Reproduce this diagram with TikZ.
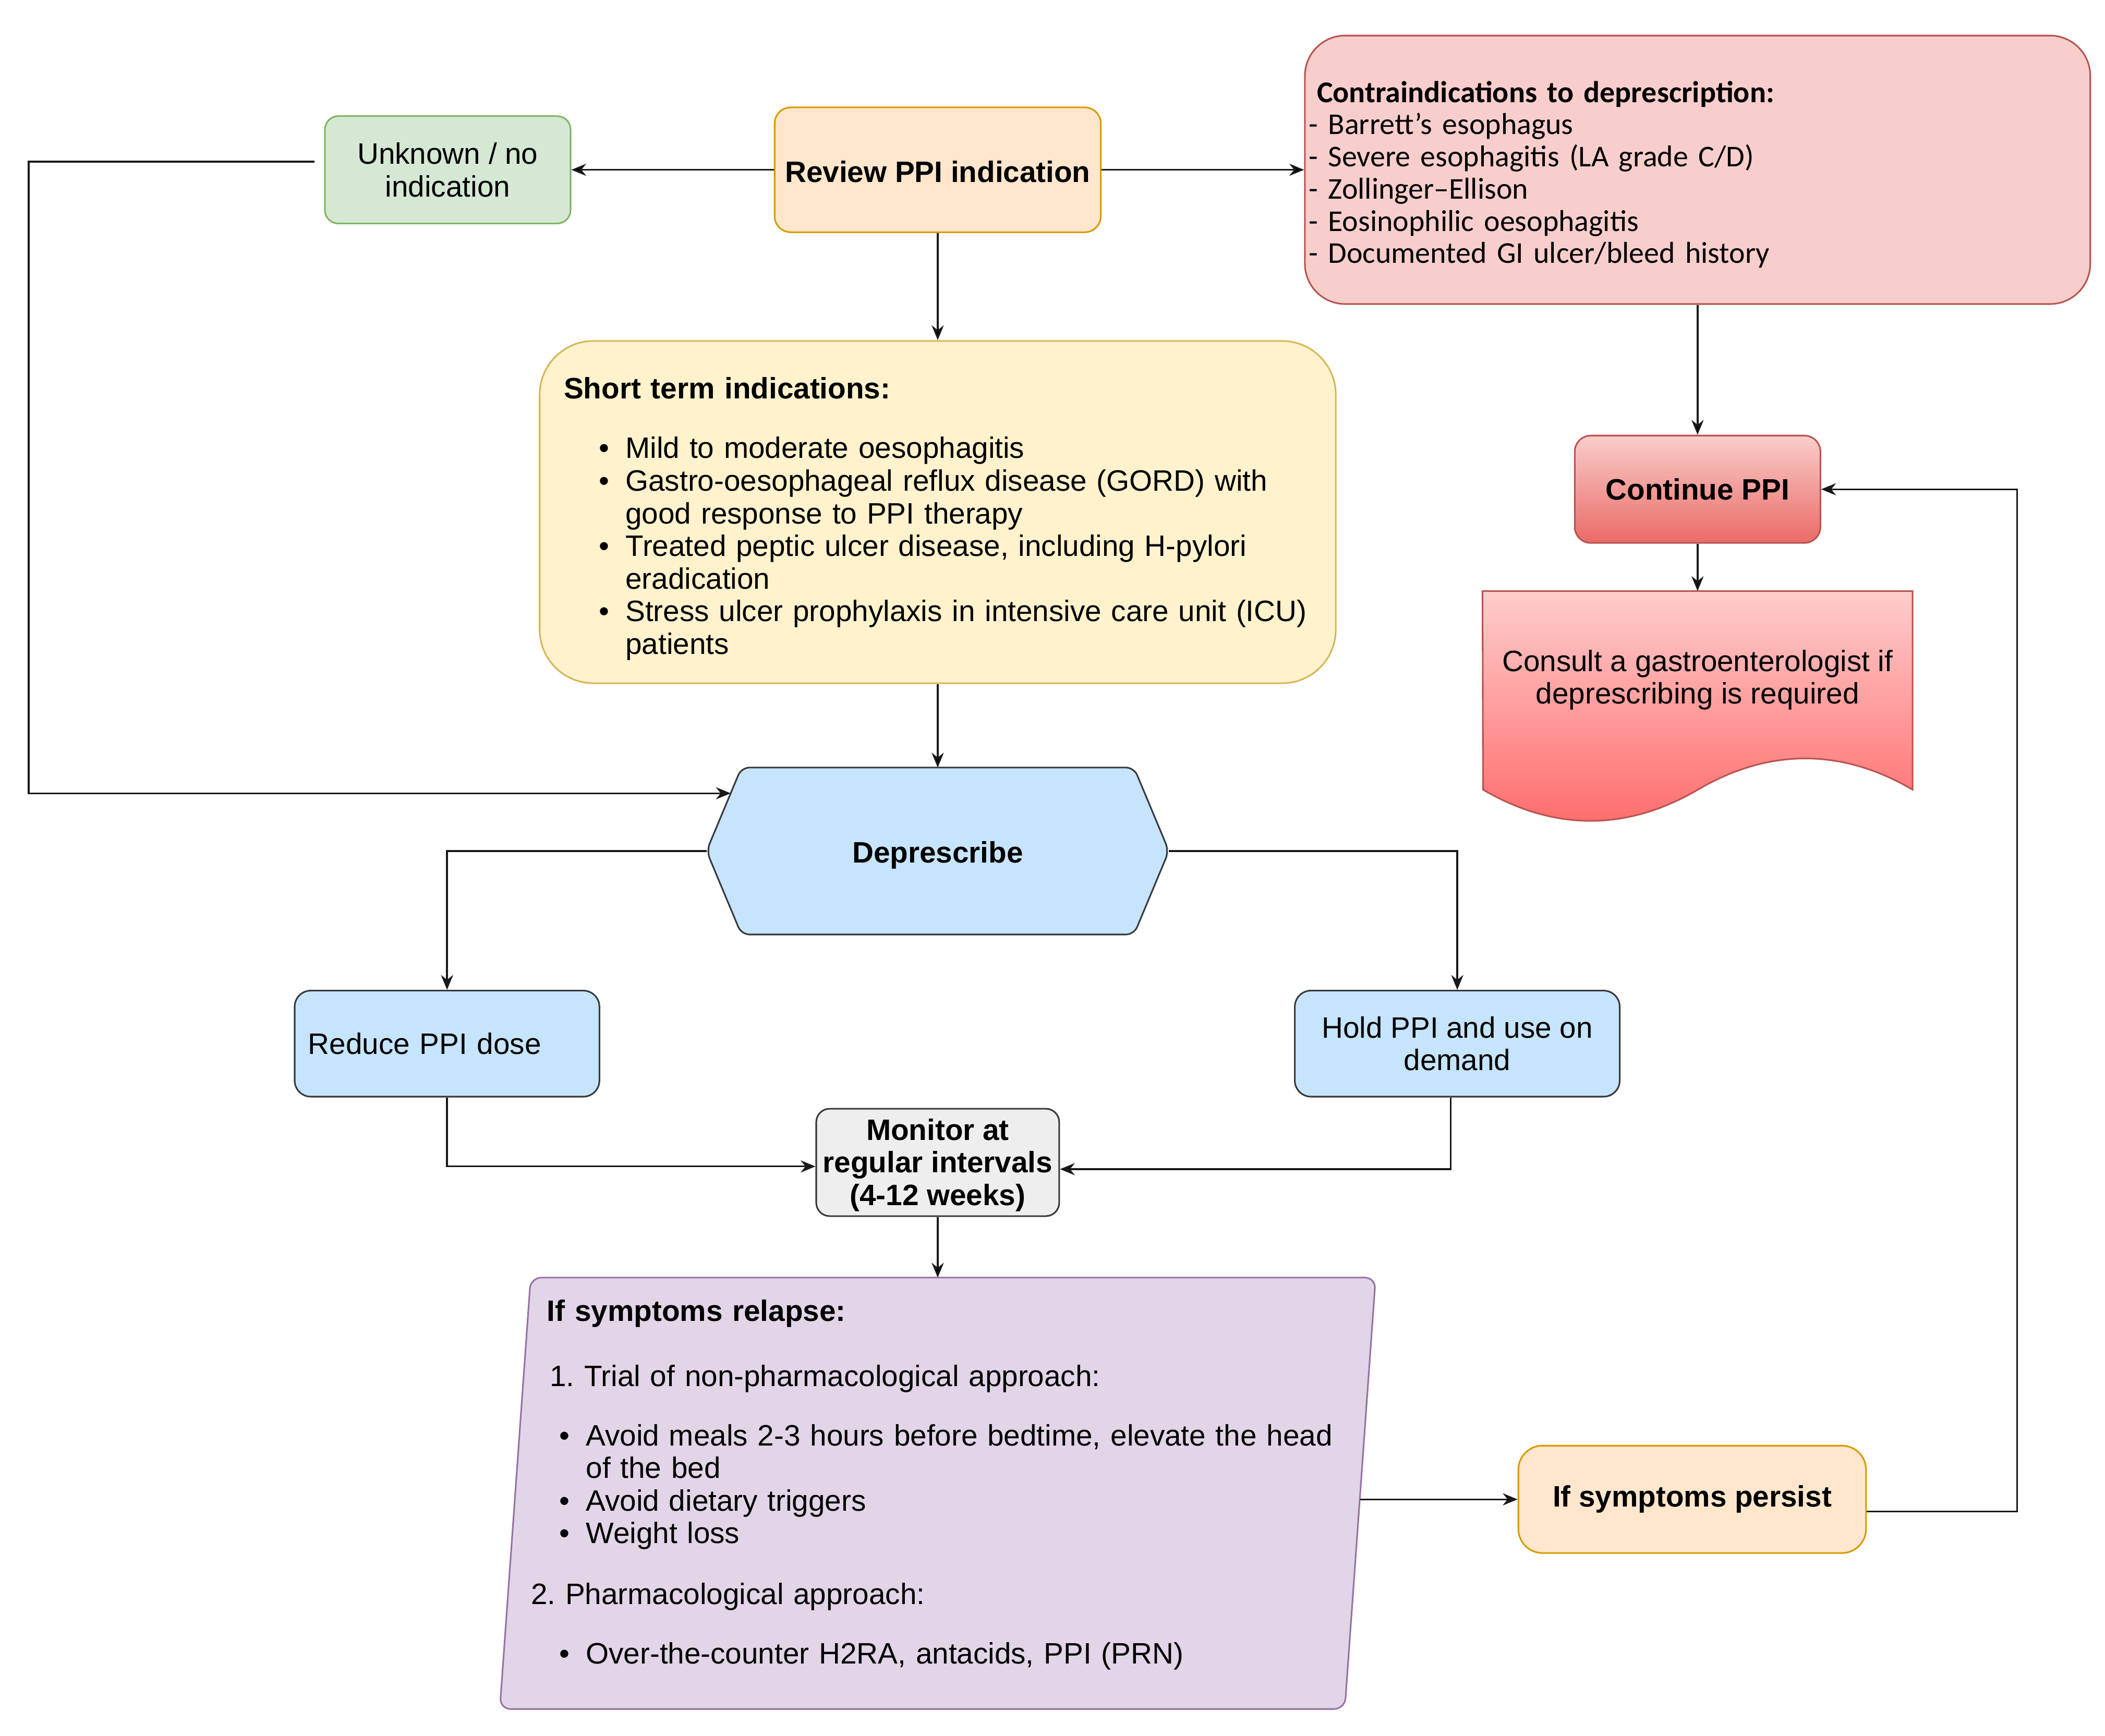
\documentclass[tikz,border=0pt]{standalone}
\usepackage{fontspec}
\setmainfont{Liberation Sans}
\newfontfamily\calibrifont{Carlito}
\usetikzlibrary{positioning,arrows.meta,backgrounds}
\frenchspacing

\definecolor{greenfill}{HTML}{D5E8D4}
\definecolor{greenline}{HTML}{82B366}
\definecolor{orangefill}{HTML}{FFE6CC}
\definecolor{orangeline}{HTML}{D79B00}
\definecolor{pinkfill}{HTML}{F8CECC}
\definecolor{pinkline}{HTML}{B85450}
\definecolor{yellowfill}{HTML}{FFF2CC}
\definecolor{yellowline}{HTML}{D6B656}
\definecolor{bluefill}{HTML}{C6E4FB}
\definecolor{darkline}{HTML}{36393D}
\definecolor{grayfill}{HTML}{EEEEEE}
\definecolor{purplefill}{HTML}{E1D5E7}
\definecolor{purpleline}{HTML}{9673A6}
\definecolor{redtop}{HTML}{F9CDCB}
\definecolor{redbottom}{HTML}{EA6B66}
\definecolor{doctop}{HTML}{FFCDCD}
\definecolor{docbottom}{HTML}{FF6A6A}

\newcommand{\boxfont}{\fontsize{22}{24.3}\selectfont}
\newcommand{\bitem}[2]{\hspace*{#1}\makebox[0pt][r]{\textbullet\hspace{12pt}}\mbox{#2}}

\begin{document}
\begin{tikzpicture}[x=1pt,y=1pt,on grid,font=\boxfont,
  >={Stealth[length=11pt,width=9pt]},
  box/.style={rectangle,draw,line width=1.2pt,inner sep=0pt,align=center},
  greenbox/.style={box,draw=greenline,fill=greenfill,rounded corners=10pt},
  orangebox/.style={box,draw=orangeline,fill=orangefill,rounded corners=12pt},
  pinkbox/.style={box,draw=pinkline,fill=pinkfill,rounded corners=30pt},
  yellowbox/.style={box,draw=yellowline,fill=yellowfill,rounded corners=40pt},
  bluebox/.style={box,draw=darkline,fill=bluefill,rounded corners=12pt},
  graybox/.style={box,draw=darkline,fill=grayfill,rounded corners=10pt},
  redbox/.style={box,draw=pinkline,top color=redtop,bottom color=redbottom,rounded corners=12pt},
  plain/.style={rectangle,inner sep=0pt,align=center},
  link/.style={line width=1.3pt,draw=black!90}]
  \useasboundingbox (0,0) rectangle (1568,-1293);

  \node[orangebox,minimum width=243pt,minimum height=93pt,font=\boxfont\bfseries]
    (review) at (698.5,-126.5) {\rule{0pt}{19pt}Review PPI indication};
  \node[greenbox,minimum width=183pt,minimum height=80pt]
    (unknown) [left=365pt of review] {Unknown / no\\indication};
  \node[pinkbox,minimum width=585pt,minimum height=200pt,text width=585pt,align=left,
    font=\calibrifont\fontsize{22.5}{24}\selectfont]
    (contra) [right=566pt of review]
    {\rule{0pt}{23pt}\hspace*{9pt}\textbf{Contraindications to deprescription:}\\
     \hspace*{3pt}- Barrett’s esophagus\\
     \hspace*{3pt}- Severe esophagitis (LA grade C/D)\\
     \hspace*{3pt}- Zollinger–Ellison\\
     \hspace*{3pt}- Eosinophilic oesophagitis\\
     \hspace*{3pt}- Documented GI ulcer/bleed history};
  \node[yellowbox,minimum width=593pt,minimum height=255pt,text width=593pt,align=left]
    (short) [below=255pt of review]
    {\rule{0pt}{26pt}\hspace*{18pt}\textbf{Short term indications:}\\[20pt]
     \bitem{64pt}{Mild to moderate oesophagitis}\\
     \bitem{64pt}{Gastro-oesophageal reflux disease (GORD) with}\\
     \hspace*{64pt}good response to PPI therapy\\
     \bitem{64pt}{Treated peptic ulcer disease, including H-pylori}\\
     \hspace*{64pt}eradication\\
     \bitem{64pt}{Stress ulcer prophylaxis in intensive care unit (ICU)}\\
     \hspace*{64pt}patients};
  \node[plain,minimum width=344pt,minimum height=124pt,font=\boxfont\bfseries]
    (depres) [below=252.5pt of short] {\rule{0pt}{22pt}Deprescribe};
  \node[bluebox,minimum width=227pt,minimum height=79pt,text width=227pt,align=left]
    (reduce) [below left=143.5pt and 365.5pt of depres] {\hspace*{10pt}Reduce PPI dose};
  \node[bluebox,minimum width=242pt,minimum height=79pt]
    (hold) [below right=143.5pt and 387pt of depres] {Hold PPI and use on\\demand};
  \node[graybox,minimum width=181pt,minimum height=80pt,font=\boxfont\bfseries]
    (monitor) [below=232pt of depres] {\rule{0pt}{20pt}Monitor at\\regular intervals\\(4-12 weeks)};
  \node[plain,minimum width=629pt,minimum height=321pt,text width=629pt,align=left]
    (relapse) [below=246.5pt of monitor]
    {\hspace*{23.5pt}\textbf{If symptoms relapse:}\\[24pt]
     \hspace*{25.5pt}1. Trial of non-pharmacological approach:\\[20pt]
     \bitem{52.5pt}{Avoid meals 2-3 hours before bedtime, elevate the head}\\
     \hspace*{52.5pt}of the bed\\
     \bitem{52.5pt}{Avoid dietary triggers}\\
     \bitem{52.5pt}{Weight loss}\\[21pt]
     \hspace*{11.5pt}2. Pharmacological approach:\\[20pt]
     \bitem{52.5pt}{Over-the-counter H2RA, antacids, PPI (PRN)}\rule[-17pt]{0pt}{17pt}};
  \node[orangebox,rounded corners=18pt,minimum width=259pt,minimum height=80pt,
    font=\boxfont\bfseries]
    (persist) [below right=4.5pt and 562pt of relapse] {If symptoms persist};
  \node[redbox,minimum width=183pt,minimum height=80pt,font=\boxfont\bfseries]
    (continue) [below=238pt of contra] {Continue PPI};
  \node[plain,minimum width=320pt,minimum height=128pt]
    (consult) [below=140pt of continue] {\rule{0pt}{20pt}Consult a gastroenterologist if\\deprescribing is required};

  % shapes behind the texts
  \begin{scope}[on background layer]
    \draw[line width=1.2pt,draw=darkline,fill=bluefill,rounded corners=6pt]
      (depres.west) -- ([xshift=26pt]depres.north west) -- ([xshift=-26pt]depres.north east)
      -- (depres.east) -- ([xshift=-26pt]depres.south east) -- ([xshift=26pt]depres.south west) -- cycle;
    \draw[line width=1.2pt,draw=purpleline,fill=purplefill,rounded corners=8pt]
      ([xshift=11.5pt]relapse.north west) -- ([xshift=11.5pt]relapse.north east)
      -- ([xshift=-11.5pt]relapse.south east) -- ([xshift=-11.5pt]relapse.south west) -- cycle;
    \draw[line width=1.2pt,draw=pinkline,top color=doctop,bottom color=docbottom]
      (consult.north west) -- (consult.north east) -- ++(0,-148)
      .. controls +(-53,31) and +(53,31) .. ++(-160,0)
      .. controls +(-53,-31) and +(53,-31) .. ++(-160,0) -- cycle;
  \end{scope}

  \path[link,->] (review) edge (unknown)
                 (review) edge (contra)
                 (review) edge (short)
                 (short) edge (depres)
                 (monitor) edge (relapse)
                 (contra) edge (continue)
                 (continue) edge (consult);
  \draw[link,->] ([xshift=-7pt,yshift=6pt]unknown.west) -- ++(-213,0)
    |- ([xshift=18pt,yshift=43pt]depres.west);
  \draw[link,->] (depres.west) -| (reduce.north);
  \draw[link,->] (depres.east) -| (hold.north);
  \draw[link,->] (reduce.south) |- ([yshift=-3pt]monitor.west);
  \draw[link,->] ([xshift=-5pt]hold.south) |- ([yshift=-5pt]monitor.east);
  \draw[link,->] (relapse.east |- persist.west) -- (persist.west);
  \draw[link,->] ([yshift=-9pt]persist.east) -- ++(112,0) |- (continue.east);
\end{tikzpicture}
\end{document}
